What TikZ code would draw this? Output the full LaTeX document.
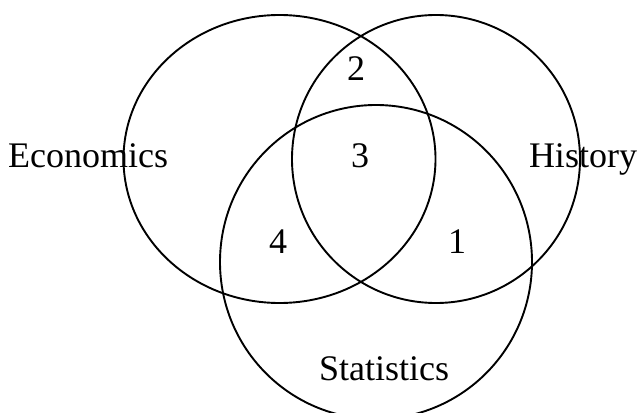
\documentclass[tikz,border=0pt]{standalone}
\usepackage{fontspec}
\setmainfont{Liberation Serif}
\usetikzlibrary{shapes.geometric}
\tikzset{
  setshape/.style={draw=black, line width=1.9pt, ellipse, inner sep=0pt, outer sep=0pt},
  lbl/.style={anchor=base, inner sep=0pt, font=\fontsize{36}{40}\selectfont}
}
\begin{document}
\begin{tikzpicture}[x=1pt,y=-1pt]
\useasboundingbox (0,0) rectangle (642,412);
\begin{scope}
\clip (0,0) rectangle (642,412);
\node[setshape, minimum width=312pt, minimum height=288pt] (econ) at (279.5,159) {};
\node[setshape, minimum width=288pt, minimum height=288pt] (hist) at (436,159) {};
\node[setshape, minimum width=312pt, minimum height=314pt] (stat) at (376,262) {};
\end{scope}
\node[lbl] (teco) at (88,167) {Economics};
\node[lbl] (this) at (583,167) {History};
\node[lbl] (tsta) at (384,380) {Statistics};
\node[lbl] (n2) at (356,80) {2};
\node[lbl] (n3) at (360,167) {3};
\node[lbl] (n4) at (278,253) {4};
\node[lbl] (n1) at (457,253) {1};
\end{tikzpicture}
\end{document}
